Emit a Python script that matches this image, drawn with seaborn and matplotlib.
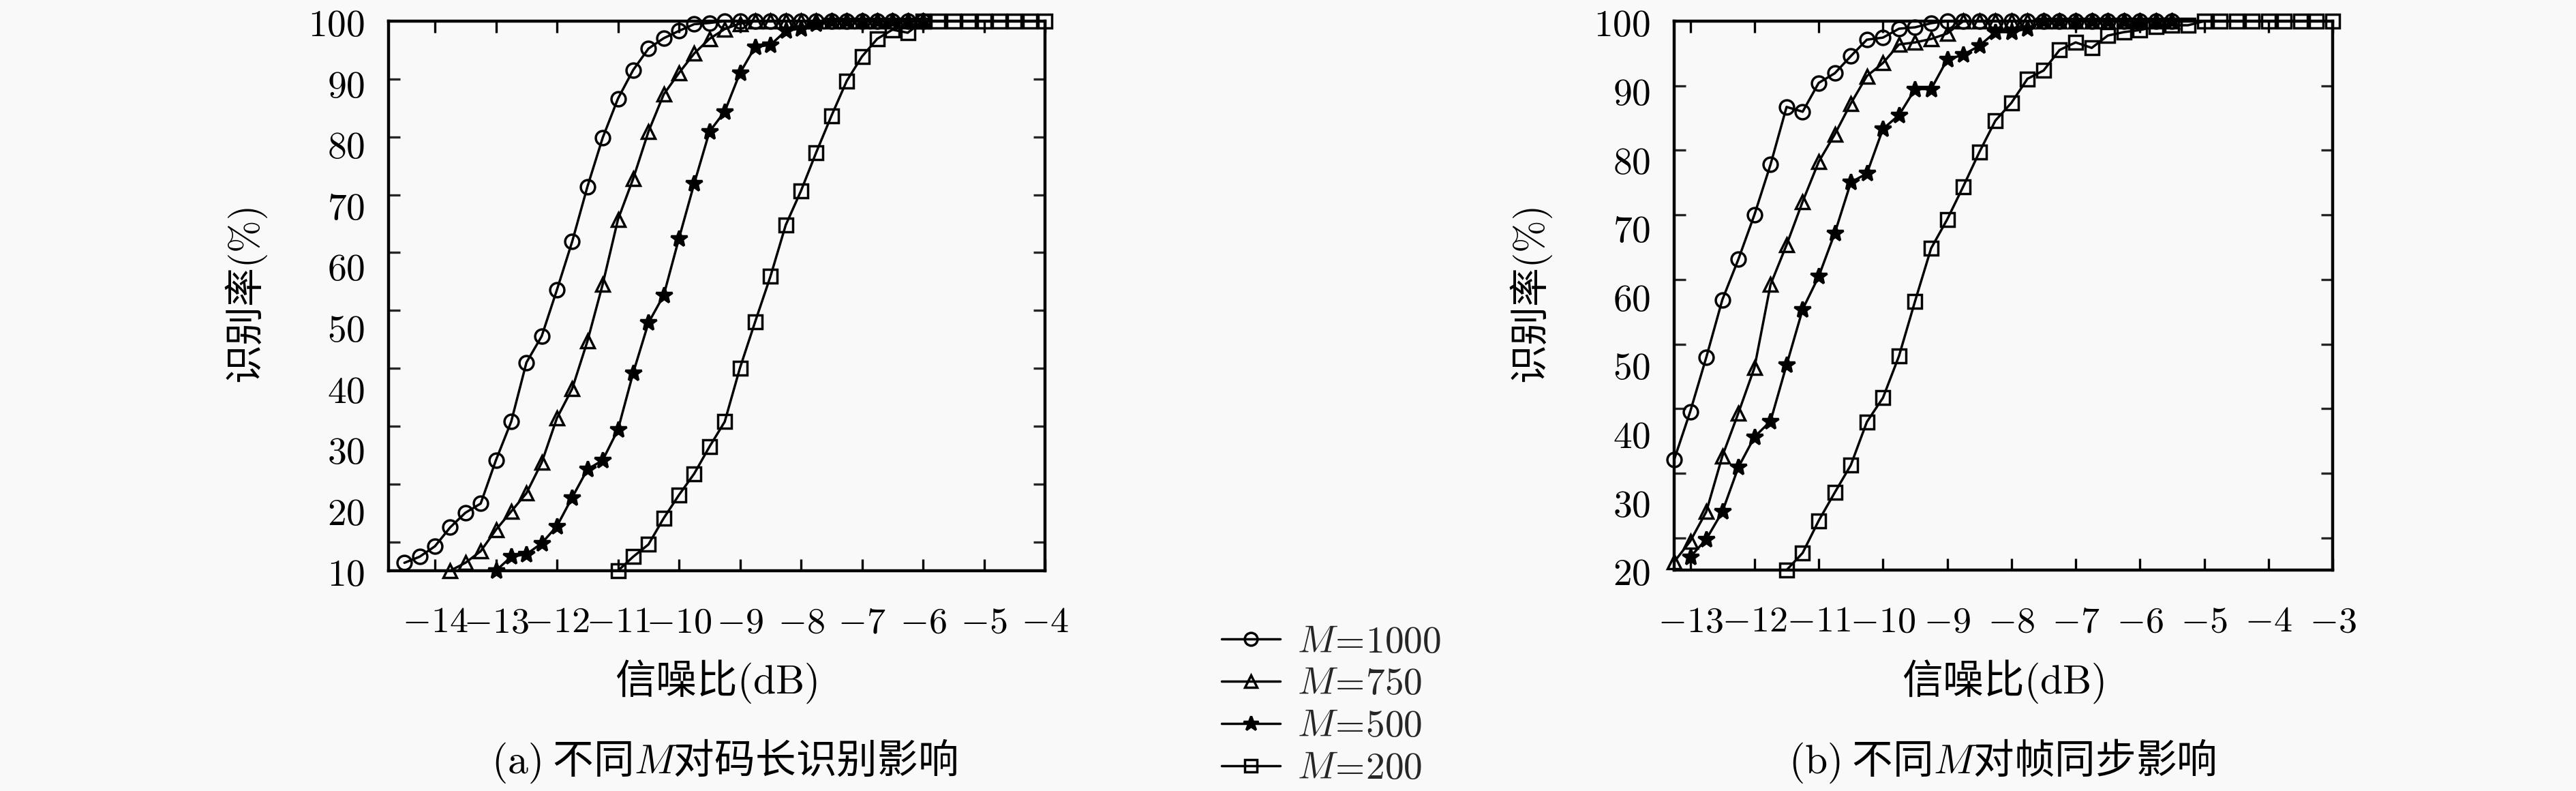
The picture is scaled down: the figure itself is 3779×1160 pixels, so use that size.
import numpy as np
import pandas as pd
import matplotlib
matplotlib.use("Agg")
import matplotlib.pyplot as plt
import seaborn as sns
from matplotlib.ticker import FixedLocator, FuncFormatter
from matplotlib.lines import Line2D

# ---------------- data ----------------
series_names = ["M=1000", "M=750", "M=500", "M=200"]
legend_labels = [r"$M\!=\!1000$", r"$M\!=\!750$", r"$M\!=\!500$", r"$M\!=\!200$"]

# (a) code-length recognition vs SNR
a_x_1000 = np.arange(-14.5, -5.99, 0.25)
a_y_1000 = [11.3, 12.3, 14.0, 17.1, 19.5, 21.0, 28.1, 34.4, 44.1, 48.4, 56.0, 63.9,
            72.9, 80.9, 87.3, 92.0, 95.5, 97.2, 98.4, 99.5, 99.7,
            100, 100, 100, 100, 100, 100, 100, 100, 100, 100, 100, 100, 100, 100]
a_x_750 = np.arange(-13.75, -5.99, 0.25)
a_y_750 = [10.0, 11.3, 13.2, 16.7, 19.7, 22.7, 27.7, 35.0, 39.8, 47.6, 56.9, 67.5,
           74.2, 81.9, 88.0, 91.5, 94.7, 97.1, 98.7, 99.6,
           100, 100, 100, 100, 100, 100, 100, 100, 100, 100, 100, 100]
a_x_500 = np.arange(-13.0, -5.99, 0.25)
a_y_500 = [10.0, 12.3, 12.7, 14.5, 17.3, 22.0, 26.6, 28.1, 33.1, 42.4, 50.6, 55.1,
           64.4, 73.4, 81.9, 85.2, 91.5, 95.8, 96.1, 98.4, 98.8, 99.6,
           100, 100, 100, 100, 100, 100, 100]
a_x_200 = np.arange(-11.0, -3.99, 0.25)
a_y_200 = [10.0, 12.3, 14.3, 18.6, 22.4, 25.9, 30.3, 34.4, 43.2, 50.8, 58.2, 66.6,
           72.2, 78.5, 84.5, 90.2, 94.2, 97.1, 98.6, 98.1,
           100, 100, 100, 100, 100, 100, 100, 100, 100]

# (b) frame synchronisation vs SNR
b_x_1000 = np.arange(-13.25, -5.49, 0.25)
b_y_1000 = [36.1, 43.1, 51.0, 59.4, 65.3, 71.8, 79.1, 87.5, 86.8, 91.0, 92.4, 94.9,
            97.3, 97.6, 98.9, 99.1, 99.7,
            100, 100, 100, 100, 100, 100, 100, 100, 100, 100, 100, 100, 100, 100, 100]
b_x_750 = np.arange(-13.25, -5.49, 0.25)
b_y_750 = [21.2, 24.2, 28.5, 36.6, 42.9, 49.5, 61.6, 67.4, 73.7, 79.5, 83.5, 88.0,
           92.0, 93.9, 96.6, 96.9, 97.4, 98.2,
           100, 100, 100, 100, 100, 100, 100, 100, 100, 100, 100, 100, 100, 100]
b_x_500 = np.arange(-13.0, -5.49, 0.25)
b_y_500 = [21.9, 24.5, 28.5, 35.0, 39.4, 41.7, 49.9, 58.0, 62.8, 69.1, 76.5, 77.8,
           84.3, 86.3, 90.1, 90.1, 94.4, 95.1, 96.4, 98.4, 98.4, 98.9,
           100, 100, 100, 100, 100, 100, 100, 100, 100]
b_x_200 = np.arange(-11.5, -2.99, 0.25)
b_y_200 = [20.0, 22.5, 27.2, 31.3, 35.3, 41.6, 45.1, 51.2, 59.2, 66.9, 71.1, 75.9,
           80.9, 85.5, 88.1, 91.6, 92.8, 95.8, 96.9, 96.1, 97.9, 98.4, 98.7, 99.2,
           99.4, 99.4,
           100, 100, 100, 100, 100, 100, 100, 100, 100]

a_xticks = [-14, -13, -12, -11, -10, -9, -8, -7, -6, -5, -4]
a_yticks = [10, 20, 30, 40, 50, 60, 70, 80, 90, 100]
b_xticks = [-13, -12, -11, -10, -9, -8, -7, -6, -5, -4, -3]
b_yticks = [20, 30, 40, 50, 60, 70, 80, 90, 100]

xlabel_text = r"信噪比$\mathrm{(dB)}$"
ylabel_text = r"识别率$\mathrm{(\%)}$"
caption_a = r"$\mathrm{(a)}$ 不同$M$对码长识别影响"
caption_b = r"$\mathrm{(b)}$ 不同$M$对帧同步影响"

# ---------------- style ----------------
sns.set_theme(style="ticks")
plt.rcParams["font.family"] = ["Noto Sans CJK SC", "DejaVu Sans"]
plt.rcParams["mathtext.fontset"] = "cm"
BG = "#f9f9f9"

markers = {"M=1000": "o", "M=750": "^", "M=500": "*", "M=200": "s"}
msizes = {"M=1000": 15, "M=750": 15, "M=500": 18, "M=200": 14}
mfaces = {"M=1000": "none", "M=750": "none", "M=500": "black", "M=200": "none"}
LW = 2.5

fig = plt.figure(figsize=(37.8, 11.6), dpi=100, facecolor=BG)
axA = fig.add_axes([570 / 3780, 1 - 837 / 1160, 963 / 3780, 806 / 1160])
axB = fig.add_axes([2456 / 3780, 1 - 836 / 1160, 966 / 3780, 805 / 1160])

panels = [
    (axA, [(a_x_1000, a_y_1000), (a_x_750, a_y_750), (a_x_500, a_y_500), (a_x_200, a_y_200)],
     (-14.76, -4), a_xticks, (10, 100), a_yticks, 5),
    (axB, [(b_x_1000, b_y_1000), (b_x_750, b_y_750), (b_x_500, b_y_500), (b_x_200, b_y_200)],
     (-13.25, -3), b_xticks, (20, 100), b_yticks, 15),
]

fmt = FuncFormatter(lambda v, p: f"${v:g}$")

for ax, data, xlim, xticks, ylim, yticks, true_lo in panels:
    ax.set_facecolor(BG)
    for name, (xs, ys) in zip(series_names, data):
        df = pd.DataFrame({"snr": xs, "rate": ys})
        sns.lineplot(data=df, x="snr", y="rate", ax=ax, color="black",
                     marker=markers[name], markersize=msizes[name],
                     markerfacecolor=mfaces[name], markeredgecolor="black",
                     markeredgewidth=2.5, linewidth=LW, clip_on=False,
                     errorbar=None, legend=False, zorder=3)
    ax.set_xlim(*xlim)
    ax.set_ylim(*ylim)
    ax.set_xlabel("")
    ax.set_ylabel("")
    ax.xaxis.set_major_locator(FixedLocator(xticks))
    ax.yaxis.set_major_locator(FixedLocator(yticks))
    # the original figure's y tick marks are drawn on a slightly different scale
    lo, hi = ylim
    marks = [lo + (t - true_lo) * (hi - lo) / (hi - true_lo) for t in range(lo, 101, 10)]
    ax.yaxis.set_minor_locator(FixedLocator(marks))
    ax.xaxis.set_major_formatter(fmt)
    ax.yaxis.set_major_formatter(fmt)
    ax.tick_params(axis="x", which="major", direction="in", length=12, width=2.4,
                   top=True, bottom=True, labelsize=39, pad=34, colors="black")
    ax.tick_params(axis="x", which="minor", length=0)
    ax.tick_params(axis="y", which="major", length=0, labelsize=40, pad=25,
                   left=True, right=True, colors="black")
    ax.tick_params(axis="y", which="minor", direction="in", length=12, width=2.4,
                   left=True, right=True)
    for s in ax.spines.values():
        s.set_visible(True)
        s.set_linewidth(3.2)
        s.set_color("black")

# axis labels and captions
fs_cjk = 43
fig.text(362 / 3780, 1 - 434 / 1160, ylabel_text, rotation=90, ha="center", va="center",
         fontsize=41, color="black")
fig.text(2247 / 3780, 1 - 434 / 1160, ylabel_text, rotation=90, ha="center", va="center",
         fontsize=41, color="black")
fig.text(1051 / 3780, 1 - 1000 / 1160, xlabel_text, ha="center", va="center",
         fontsize=fs_cjk, color="black")
fig.text(2939 / 3780, 1 - 1000 / 1160, xlabel_text, ha="center", va="center",
         fontsize=fs_cjk, color="black")
fig.text(1063 / 3780, 1 - 1116 / 1160, caption_a, ha="center", va="center",
         fontsize=fs_cjk, color="black")
fig.text(2937 / 3780, 1 - 1116 / 1160, caption_b, ha="center", va="center",
         fontsize=fs_cjk, color="black")

# legend
handles = [Line2D([], [], color="black", linewidth=LW, marker=markers[n],
                  markersize=msizes[n] * 0.9, markerfacecolor=mfaces[n],
                  markeredgecolor="black", markeredgewidth=2.5) for n in series_names]
fig.legend(handles, legend_labels, loc="upper left",
           bbox_to_anchor=(1792 / 3780, 1 - 912 / 1160), frameon=False,
           fontsize=40, handlelength=1.55, handletextpad=0.45, labelspacing=0.08,
           borderpad=0, borderaxespad=0)

fig.savefig("out.png", dpi=100, facecolor=BG)
